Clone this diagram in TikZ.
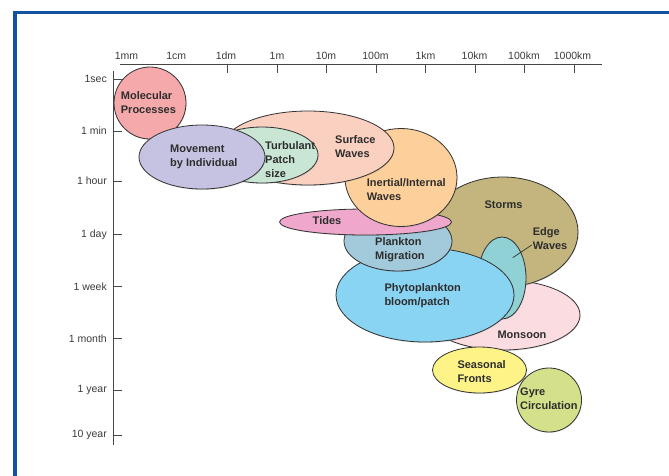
\documentclass[tikz,border=0pt]{standalone}
\usepackage{fontspec}
\setmainfont{Liberation Sans}
\usetikzlibrary{shapes.geometric,shadows}
\definecolor{framec}{RGB}{18,82,160}
\definecolor{outl}{RGB}{50,50,50}
\definecolor{txt}{RGB}{45,45,45}
\definecolor{axt}{RGB}{60,60,60}
\definecolor{axc}{RGB}{70,70,70}
\definecolor{cmol}{RGB}{245,169,171}
\definecolor{cmov}{RGB}{198,195,226}
\definecolor{cturb}{RGB}{201,229,211}
\definecolor{csurf}{RGB}{250,208,192}
\definecolor{cinert}{RGB}{253,208,155}
\definecolor{ctides}{RGB}{239,167,203}
\definecolor{cplank}{RGB}{162,202,219}
\definecolor{cstorm}{RGB}{195,181,125}
\definecolor{cedge}{RGB}{143,209,213}
\definecolor{cphyto}{RGB}{138,212,243}
\definecolor{cmon}{RGB}{251,220,224}
\definecolor{cseas}{RGB}{253,243,135}
\definecolor{cgyre}{RGB}{212,225,138}
\begin{document}
\begin{tikzpicture}[x=1pt,y=-1pt,
  blob/.style={ellipse, draw=outl, line width=0.8pt, inner sep=0pt,
    drop shadow={shadow xshift=0.6pt, shadow yshift=-0.9pt, opacity=0.25}},
  lab/.style={font=\fontsize{11}{14}\selectfont\bfseries, text=txt, align=left, inner sep=0pt, anchor=west},
  axlab/.style={font=\fontsize{10.5}{12}\selectfont, text=axt, inner sep=0pt},
  axline/.style={draw=axc, line width=0.8pt}]
\useasboundingbox (0,0) rectangle (669,475);
\fill[white] (0,0) rectangle (669,475);
% frame
\draw[framec, line width=3.5pt, line join=miter] (15,480) -- (15,12.5) -- (675,12.5);
% top axis
\draw[axline] (120,64.3) -- (601.7,64.3);
\foreach \x in {227.7,277.2,326.6,376.1,425.6,475.0,524.5,574.0}
  \draw[axline] (\x,64.3) -- (\x,73);
\node[axlab] (x1) at (126.5,56) {1mm};
\node[axlab] (x2) at (176.3,56) {1cm};
\node[axlab] (x3) at (226,56) {1dm};
\node[axlab] (x4) at (277,56) {1m};
\node[axlab] (x5) at (326,56) {10m};
\node[axlab] (x6) at (375.5,56) {100m};
\node[axlab] (x7) at (425.5,56) {1km};
\node[axlab] (x8) at (474.5,56) {10km};
\node[axlab] (x9) at (524,56) {100km};
\node[axlab] (x10) at (572.5,56) {1000km};
% left axis
\draw[axline] (113.3,71) -- (113.3,445);
\foreach \y/\t [count=\i] in {79.3/1sec, 131/1 min, 181/1 hour, 234.5/1 day, 286.7/1 week, 338.3/1 month, 390/1 year, 435/10 year} {
  \draw[axline] (113.3,\y) -- (122,\y);
  \node[axlab, anchor=east] (y\i) at (107,\y) {\t};
}
% shapes (back to front)
\node[blob, fill=cmon, minimum width=154pt, minimum height=70pt] (monsoon) at (503,315) {};
\node[blob, fill=cstorm, minimum width=150pt, minimum height=110pt] (storms) at (503,232) {};
\node[blob, fill=cedge, minimum width=48pt, minimum height=82pt] (edge) at (502,278) {};
\node[blob, fill=cphyto, minimum width=178pt, minimum height=94pt] (phyto) at (425,295) {};
\node[blob, fill=cplank, minimum width=108pt, minimum height=60pt] (plank) at (398,241) {};
\node[blob, fill=ctides, minimum width=172pt, minimum height=26pt] (tides) at (365.5,222) {};
\node[blob, fill=cinert, minimum width=112pt, minimum height=98pt] (inert) at (401,177.5) {};
\node[blob, fill=csurf, minimum width=172pt, minimum height=74pt] (surf) at (308,148) {};
\node[blob, fill=cturb, minimum width=112pt, minimum height=56pt] (turb) at (262,155) {};
\node[blob, fill=cmol, minimum width=72pt, minimum height=72pt] (mol) at (150,103) {};
\node[blob, fill=cmov, minimum width=126pt, minimum height=64pt] (mov) at (202,157) {};
\node[blob, fill=cseas, minimum width=94pt, minimum height=46pt] (seas) at (479.5,370) {};
\node[blob, fill=cgyre, minimum width=65pt, minimum height=64pt] (gyre) at (549,400) {};
% labels
\node[lab] (lmol) at (120.7,102.6) {Molecular\\Processes};
\node[lab] (lmov) at (170,157) {Movement\\by Individual};
\node[lab] (lturb) at (265,159.3) {Turbulant\\Patch\\size};
\node[lab] (lsurf) at (335,146.3) {Surface\\Waves};
\node[lab] (linert) at (366.7,189.5) {Inertial/Internal\\Waves};
\node[lab, anchor=center] (ltides) at (327,220.7) {Tides};
\node[lab, anchor=center] (lstorms) at (503.5,204.3) {Storms};
\node[lab] (ledge) at (532.7,238.4) {Edge\\Waves};
\node[lab] (lplank) at (375,249.2) {Plankton\\Migration};
\node[lab] (lphyto) at (384.3,295.8) {Phytoplankton\\bloom/patch};
\node[lab, anchor=center] (lmon) at (522,335) {Monsoon};
\node[lab] (lseas) at (457.3,371.3) {Seasonal\\Fronts};
\node[lab] (lgyre) at (520,398.9) {Gyre\\Circulation};
% edge waves leader
\coordinate (ewa) at (512.7,257.7);
\coordinate (ewb) at (531.7,245);
\draw[outl, line width=0.7pt] (ewa) -- (ewb);
\end{tikzpicture}
\end{document}
